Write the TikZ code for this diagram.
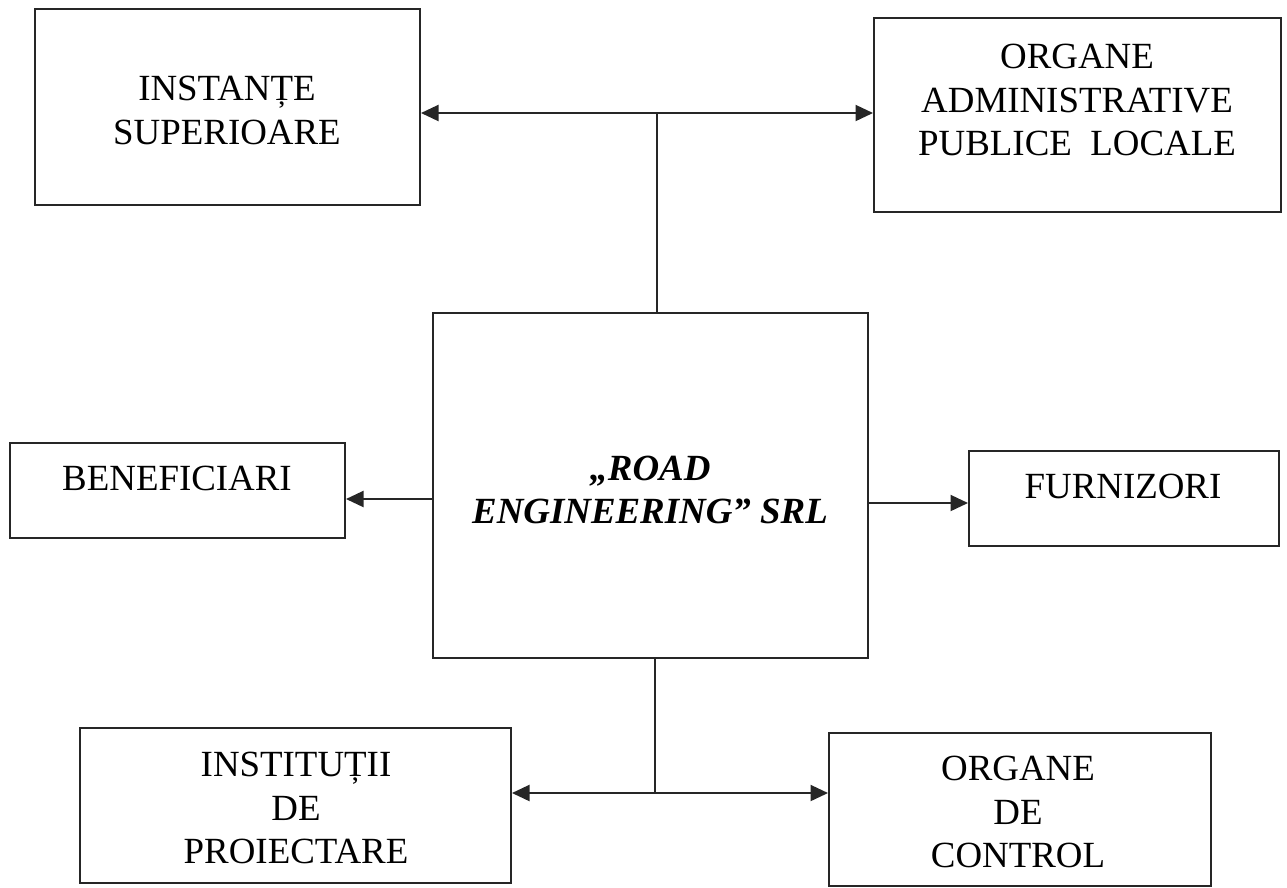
\documentclass[tikz,border=0pt]{standalone}
\usepackage{fontspec}
\setmainfont{Liberation Serif}
\usepackage{tikz}
\usetikzlibrary{arrows.meta, positioning, calc}

\begin{document}
\begin{tikzpicture}[
  x=0.02cm, y=-0.02cm,
  box/.style={rectangle, draw=black!85, line width=1.1pt, inner sep=0pt},
  txt/.style={font=\fontsize{21}{25}\selectfont, align=center, inner sep=0pt},
  conn/.style={draw=black!85, line width=0.9pt},
  arr/.style={-{Triangle[length=10pt, width=9pt]}, draw=black!85, line width=1.5pt}
]
  \useasboundingbox (0,0) rectangle (1287,887);

  % Boxes
  \node[box, minimum width=7.7cm,  minimum height=3.92cm] (sup) at (227.5,107)   {};
  \node[box, minimum width=8.14cm, minimum height=3.88cm] (adm) at (1077.5,115)  {};
  \node[box, minimum width=8.7cm,  minimum height=6.9cm]  (rd)  at (650.5,485.5) {};
  \node[box, minimum width=6.7cm,  minimum height=1.9cm]  (ben) at (177.5,490.5) {};
  \node[box, minimum width=6.2cm,  minimum height=1.9cm]  (fur) at (1124,498.5)  {};
  \node[box, minimum width=8.62cm, minimum height=3.1cm]  (pro) at (295.5,805.5) {};
  \node[box, minimum width=7.64cm, minimum height=3.06cm] (ctl) at (1020,809.5)  {};

  % Texts
  \node[txt] (tsup) at (227,110)  {INSTANȚE\\SUPERIOARE};
  \node[txt] (tadm) at (1077,100) {ORGANE\\ADMINISTRATIVE\\PUBLICE\ \ LOCALE};
  \node[txt, font=\fontsize{21}{24}\selectfont\bfseries\itshape] (trd) at (650,490)
    {„ROAD\\ENGINEERING” SRL};
  \node[txt] (tben) at (177,478)  {BENEFICIARI};
  \node[txt] (tfur) at (1123,486) {FURNIZORI};
  \node[txt] (tpro) at (296,808)  {INSTITUȚII\\DE\\PROIECTARE};
  \node[txt] (tctl) at (1018,812) {ORGANE\\DE\\CONTROL};

  % Junctions
  \coordinate (jt) at (657,113);
  \coordinate (jb) at (655,793);
  \coordinate (jl) at (433,499);
  \coordinate (jr) at (868,503);

  % Connectors
  \draw[conn] (jt) -- (jt |- rd.north);
  \draw[arr] (jt) -- (jt -| sup.east);
  \draw[arr] (jt) -- (jt -| adm.west);

  \draw[conn] (jb) -- (jb |- rd.south);
  \draw[arr] (jb) -- (jb -| pro.east);
  \draw[arr] (jb) -- (jb -| ctl.west);

  \draw[arr] (jl) -- (jl -| ben.east);
  \draw[arr] (jr) -- (jr -| fur.west);
\end{tikzpicture}
\end{document}
